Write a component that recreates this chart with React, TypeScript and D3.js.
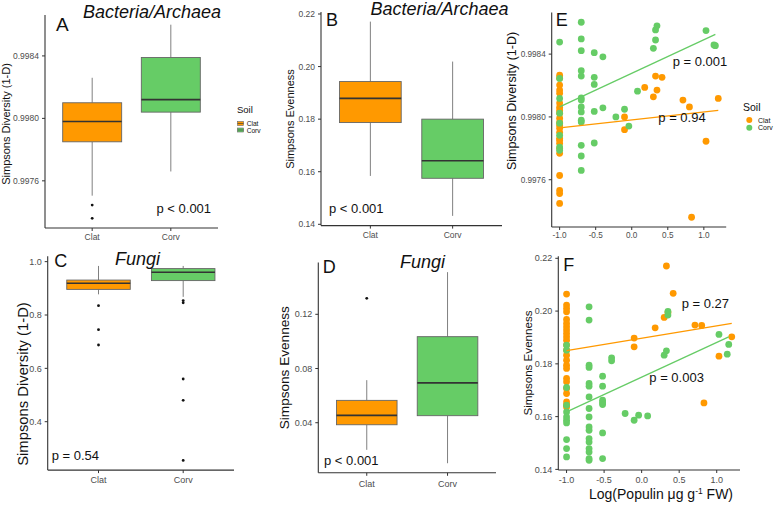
import React from 'react';
import * as d3 from 'd3';

// ---------- data ----------
const soils = ['Clat', 'Corv'];
const soilColors = ['#FF9900', '#66CC66'];

// box stats: [lower whisker, Q1, median, Q3, upper whisker]
const boxA_Clat = [0.997505, 0.99785, 0.99798, 0.9981, 0.99826];
const boxA_Corv = [0.99766, 0.99804, 0.99812, 0.99839, 0.9986];
const outA_Clat = [0.997445, 0.99736];
const outA_Corv: number[] = [];

const boxB_Clat = [0.1584, 0.1787, 0.1879, 0.1943, 0.2171];
const boxB_Corv = [0.1432, 0.1575, 0.1642, 0.18, 0.2019];
const outB_Clat: number[] = [];
const outB_Corv: number[] = [];

const boxC_Clat = [0.8775, 0.896, 0.919, 0.931, 0.984];
const boxC_Corv = [0.868, 0.929, 0.96, 0.974, 0.984];
const outC_Clat = [0.835, 0.745, 0.6875];
const outC_Corv = [0.854, 0.846, 0.56, 0.48, 0.255];

const boxD_Clat = [0.02, 0.0385, 0.0454, 0.0565, 0.0714];
const boxD_Corv = [0.0101, 0.0452, 0.0694, 0.1035, 0.1511];
const outD_Clat = [0.1318];
const outD_Corv: number[] = [];

// scatter: [log populin, value]
const ptsE_Clat: [number, number][] = [
  [-1, 0.998266], [-1, 0.998247], [-1, 0.998203], [-1, 0.998171], [-1, 0.998151], [-1, 0.998088],
  [-1, 0.998062], [-1, 0.998043], [-1, 0.998024], [-1, 0.997992], [-1, 0.997966], [-1, 0.997947],
  [-1, 0.997928], [-1, 0.997902], [-1, 0.997864], [-1, 0.997851], [-1, 0.997832], [-1, 0.9978],
  [-1, 0.997768], [-1, 0.997627], [-1, 0.997532], [-1, 0.997512], [-1, 0.997449],
  [-0.1, 0.998], [-0.1, 0.997919], [0.18, 0.998188], [0.3, 0.998128], [0.33, 0.99826],
  [0.35, 0.998171], [0.42, 0.998252], [0.71, 0.998107], [0.8, 0.998064], [0.83, 0.997361],
  [1.03, 0.997845], [1.2, 0.998118],
];
const ptsE_Corv: [number, number][] = [
  [-1, 0.998477], [-1, 0.998245], [-1, 0.998118], [-1, 0.998024], [-1, 0.99796], [-1, 0.997883],
  [-1, 0.997808], [-1, 0.997787],
  [-0.7, 0.998603], [-0.7, 0.998497], [-0.7, 0.998422], [-0.7, 0.998294], [-0.7, 0.99826],
  [-0.7, 0.998121], [-0.7, 0.998107], [-0.7, 0.998064], [-0.7, 0.998032], [-0.7, 0.997979],
  [-0.7, 0.997968], [-0.7, 0.997819], [-0.7, 0.997751], [-0.7, 0.997659],
  [-0.52, 0.998409], [-0.52, 0.998252], [-0.52, 0.998207], [-0.52, 0.998035], [-0.52, 0.997834],
  [-0.4, 0.998383], [-0.4, 0.998058], [-0.22, 0.998], [-0.1, 0.998049], [-0.04, 0.997942],
  [0.08, 0.998164], [0.3, 0.998437], [0.33, 0.99849], [0.33, 0.998554], [0.35, 0.99858],
  [1.03, 0.99855], [1.14, 0.998458], [1.16, 0.998454],
];
const ptsF_Clat: [number, number][] = [
  [-1, 0.20645], [-1, 0.20228], [-1, 0.20102], [-1, 0.19973], [-1, 0.19685], [-1, 0.19533],
  [-1, 0.19404], [-1, 0.19279], [-1, 0.19154], [-1, 0.19025], [-1, 0.18899], [-1, 0.1871],
  [-1, 0.1852], [-1, 0.1833], [-1, 0.1814], [-1, 0.1795], [-1, 0.17825], [-1, 0.17446],
  [-1, 0.17317], [-1, 0.17067], [-1, 0.16877], [-1, 0.16558], [-1, 0.16433], [-1, 0.16368],
  [-0.1, 0.18975], [-0.1, 0.18646], [0.18, 0.19366], [0.3, 0.19759], [0.33, 0.21708],
  [0.35, 0.19949], [0.42, 0.20672], [0.71, 0.19469], [0.8, 0.19457], [0.83, 0.1652],
  [1.03, 0.18292], [1.2, 0.19025],
];
const ptsF_Corv: [number, number][] = [
  [-1, 0.1871], [-1, 0.1852], [-1, 0.17104], [-1, 0.16433], [-1, 0.16178], [-1, 0.15989],
  [-1, 0.15863], [-1, 0.15761], [-1, 0.15131], [-1, 0.14789], [-1, 0.14471],
  [-0.7, 0.20163], [-0.7, 0.19658], [-0.7, 0.17951], [-0.7, 0.17863], [-0.7, 0.17256],
  [-0.7, 0.17154], [-0.7, 0.16748], [-0.7, 0.16307], [-0.7, 0.15989], [-0.7, 0.15609],
  [-0.7, 0.15484], [-0.7, 0.15169], [-0.7, 0.1504], [-0.7, 0.14789], [-0.7, 0.1466],
  [-0.7, 0.1441], [-0.7, 0.14345],
  [-0.52, 0.17533], [-0.52, 0.17154], [-0.52, 0.16623], [-0.52, 0.16535], [-0.52, 0.16459],
  [-0.52, 0.15382], [-0.52, 0.1441], [-0.4, 0.18228], [-0.4, 0.18114], [-0.22, 0.16118],
  [-0.1, 0.15863], [-0.04, 0.16053], [0.08, 0.16027], [0.3, 0.1833], [0.33, 0.18494],
  [0.35, 0.19987], [0.35, 0.19848], [1.03, 0.19116], [1.14, 0.18368], [1.16, 0.18736],
];

// fitted regression lines (endpoints)
const fitE_Clat: [number, number][] = [[-1, 0.99793], [1.2, 0.998042]];
const fitE_Corv: [number, number][] = [[-1, 0.998064], [1.16, 0.998526]];
const fitF_Clat: [number, number][] = [[-1, 0.185], [1.2, 0.19533]];
const fitF_Corv: [number, number][] = [[-1, 0.16178], [1.16, 0.19025]];

const ticksA = [0.9976, 0.998, 0.9984];
const ticksB = [0.14, 0.16, 0.18, 0.2, 0.22];
const ticksC = [0.4, 0.6, 0.8, 1.0];
const ticksD = [0.04, 0.08, 0.12];
const ticksE = [0.9976, 0.998, 0.9984];
const ticksF = [0.14, 0.16, 0.18, 0.2, 0.22];
const ticksX = [-1, -0.5, 0, 0.5, 1];

// ---------- styles ----------
const FONT = "'Liberation Sans', Arial, Helvetica, sans-serif";
const AXIS = '#333333';
const TICKTXT = '#4d4d4d';

type Frame = { l: number; r: number; t: number; b: number };

function expanded(vals: number[]): [number, number] {
  const [mn, mx] = d3.extent(vals) as [number, number];
  const p = (mx - mn) * 0.05;
  return [mn - p, mx + p];
}

function YAxis({ y, f, ticks, digits, fs }: any) {
  return (
    <g>
      <line x1={f.l} x2={f.l} y1={f.t} y2={f.b} stroke={AXIS} strokeWidth={1.1} />
      {ticks.map((t: number) => (
        <g key={t}>
          <line x1={f.l - 3} x2={f.l} y1={y(t)} y2={y(t)} stroke={AXIS} strokeWidth={1} />
          <text x={f.l - 6} y={y(t)} dy="0.35em" textAnchor="end" fontSize={fs} fill={TICKTXT} fontFamily={FONT}>
            {t.toFixed(digits)}
          </text>
        </g>
      ))}
    </g>
  );
}

function BoxPanel(p: any) {
  const f: Frame = p.frame;
  const stats = [p.clat, p.corv];
  const outs = [p.outClat, p.outCorv];
  const y = d3.scaleLinear().domain(expanded([...stats.flat(), ...outs.flat()])).range([f.b, f.t]);
  const x = d3.scalePoint<string>().domain(soils).range([f.l, f.r]).padding(0.6);
  const bw = x.step() * 0.75;
  return (
    <g>
      {soils.map((s, i) => {
        const [lo, q1, md, q3, hi] = stats[i];
        const cx = x(s)!;
        return (
          <g key={s}>
            <line x1={cx} x2={cx} y1={y(hi)} y2={y(q3)} stroke="#808080" strokeWidth={1} />
            <line x1={cx} x2={cx} y1={y(q1)} y2={y(lo)} stroke="#808080" strokeWidth={1} />
            <rect x={cx - bw / 2} y={y(q3)} width={bw} height={y(q1) - y(q3)} fill={soilColors[i]} stroke="#666" strokeWidth={0.9} />
            <line x1={cx - bw / 2} x2={cx + bw / 2} y1={y(md)} y2={y(md)} stroke="#333" strokeWidth={1.6} />
            {outs[i].map((o: number, k: number) => (
              <circle key={k} cx={cx} cy={y(o)} r={1.4} fill="#111" />
            ))}
          </g>
        );
      })}
      <YAxis y={y} f={f} ticks={p.ticks} digits={p.digits} fs={p.tickFs} />
      <line x1={f.l} x2={f.r} y1={f.b} y2={f.b} stroke={AXIS} strokeWidth={1.1} />
      {soils.map((s) => (
        <g key={s}>
          <line x1={x(s)} x2={x(s)} y1={f.b} y2={f.b + 3} stroke={AXIS} strokeWidth={1} />
          <text x={x(s)} y={f.b + p.xLabOff} textAnchor="middle" fontSize={p.tickFs} fill={TICKTXT} fontFamily={FONT}>{s}</text>
        </g>
      ))}
      <text transform={`translate(${p.yTitle[0]},${p.yTitle[1]}) rotate(-90)`} textAnchor="middle" fontSize={p.yTitleFs} fill="#111" fontFamily={FONT}>{p.yTitleText}</text>
    </g>
  );
}

function ScatterPanel(p: any) {
  const f: Frame = p.frame;
  const series = [p.clat, p.corv];
  const fits = [p.fitClat, p.fitCorv];
  const all = series.flat();
  const x = d3.scaleLinear().domain(expanded(all.map((d: number[]) => d[0]))).range([f.l, f.r]);
  const y = d3.scaleLinear().domain(expanded(all.map((d: number[]) => d[1]))).range([f.b, f.t]);
  const line = d3.line<[number, number]>().x((d) => x(d[0])).y((d) => y(d[1]));
  return (
    <g>
      {series.map((ser: [number, number][], i: number) => (
        <g key={i}>
          {ser.map((d, k) => (
            <circle key={k} cx={x(d[0])} cy={y(d[1])} r={3.4} fill={soilColors[i]} />
          ))}
        </g>
      ))}
      {fits.map((ft: [number, number][], i: number) => (
        <path key={i} d={line(ft) || ''} stroke={soilColors[i]} strokeWidth={1.3} fill="none" />
      ))}
      <YAxis y={y} f={f} ticks={p.ticks} digits={p.digits} fs={p.tickFs} />
      <line x1={f.l} x2={f.r} y1={f.b} y2={f.b} stroke={AXIS} strokeWidth={1.1} />
      {ticksX.map((t) => (
        <g key={t}>
          <line x1={x(t)} x2={x(t)} y1={f.b} y2={f.b + 3} stroke={AXIS} strokeWidth={1} />
          <text x={x(t)} y={f.b + p.xLabOff} textAnchor="middle" fontSize={p.tickFs} fill={TICKTXT} fontFamily={FONT}>{t.toFixed(1)}</text>
        </g>
      ))}
      <text transform={`translate(${p.yTitle[0]},${p.yTitle[1]}) rotate(-90)`} textAnchor="middle" fontSize={p.yTitleFs} fill="#111" fontFamily={FONT}>{p.yTitleText}</text>
    </g>
  );
}

function Txt({ x, y, fs, children, italic, anchor }: any) {
  return (
    <text x={x} y={y} fontSize={fs} fontFamily={FONT} fill="#111" fontStyle={italic ? 'italic' : 'normal'} textAnchor={anchor || 'start'}>
      {children}
    </text>
  );
}

export default function App() {
  return (
    <div style={{ position: 'absolute', left: 0, top: 0 }}>
      <svg width={778} height={505} viewBox="0 0 778 505" style={{ display: 'block', background: '#fff' }}>
        <rect width={778} height={505} fill="#fff" />
        {/* A */}
        <BoxPanel frame={{ l: 45, r: 218, t: 15, b: 228 }} clat={boxA_Clat} corv={boxA_Corv} outClat={outA_Clat} outCorv={outA_Corv}
          ticks={ticksA} digits={4} tickFs={8.5} xLabOff={12.3} yTitle={[9.5, 124]} yTitleFs={11} yTitleText="Simpsons Diversity (1-D)" />
        <Txt x={56} y={30.5} fs={19}>A</Txt>
        <Txt x={83} y={17.5} fs={18} italic>Bacteria/Archaea</Txt>
        <Txt x={156.5} y={213.3} fs={13}>p &lt; 0.001</Txt>
        {/* legend A */}
        <Txt x={237} y={113} fs={9.5}>Soil</Txt>
        {soils.map((s, i) => (
          <g key={s}>
            <rect x={237.5} y={121.5 + i * 6.5} width={6} height={4} fill={soilColors[i]} stroke="#666" strokeWidth={0.6} />
            <line x1={237.5} x2={243.5} y1={123.5 + i * 6.5} y2={123.5 + i * 6.5} stroke="#333" strokeWidth={0.6} />
            <Txt x={246.7} y={126 + i * 6.5} fs={6.6}>{s}</Txt>
          </g>
        ))}

        {/* B */}
        <BoxPanel frame={{ l: 321, r: 502, t: 11.9, b: 225.6 }} clat={boxB_Clat} corv={boxB_Corv} outClat={outB_Clat} outCorv={outB_Corv}
          ticks={ticksB} digits={2} tickFs={8.5} xLabOff={12.7} yTitle={[294, 119]} yTitleFs={11} yTitleText="Simpsons Evenness" />
        <Txt x={326} y={26} fs={18}>B</Txt>
        <Txt x={370.5} y={15} fs={18} italic>Bacteria/Archaea</Txt>
        <Txt x={329} y={213.3} fs={13}>p &lt; 0.001</Txt>

        {/* C */}
        <BoxPanel frame={{ l: 47.7, r: 234, t: 256.2, b: 470.1 }} clat={boxC_Clat} corv={boxC_Corv} outClat={outC_Clat} outCorv={outC_Corv}
          ticks={ticksC} digits={1} tickFs={9} xLabOff={12.7} yTitle={[27.5, 384]} yTitleFs={14.8} yTitleText="Simpsons Diversity (1-D)" />
        <Txt x={54.3} y={266.7} fs={18}>C</Txt>
        <Txt x={115} y={264.6} fs={18} italic>Fungi</Txt>
        <Txt x={51.7} y={460} fs={13}>p = 0.54</Txt>

        {/* D */}
        <BoxPanel frame={{ l: 318.3, r: 496, t: 262.6, b: 472.8 }} clat={boxD_Clat} corv={boxD_Corv} outClat={outD_Clat} outCorv={outD_Corv}
          ticks={ticksD} digits={2} tickFs={9} xLabOff={13.9} yTitle={[289, 367.7]} yTitleFs={13.6} yTitleText="Simpsons Evenness" />
        <Txt x={322.7} y={272.7} fs={18}>D</Txt>
        <Txt x={400} y={268} fs={18} italic>Fungi</Txt>
        <Txt x={324} y={465} fs={13}>p &lt; 0.001</Txt>

        {/* E */}
        <ScatterPanel frame={{ l: 551.7, r: 726.2, t: 12.5, b: 227 }} clat={ptsE_Clat} corv={ptsE_Corv} fitClat={fitE_Clat} fitCorv={fitE_Corv}
          ticks={ticksE} digits={4} tickFs={8.2} xLabOff={11.3} yTitle={[515.6, 101]} yTitleFs={12.5} yTitleText="Simpsons Diversity (1-D)" />
        <Txt x={555.7} y={25.5} fs={18}>E</Txt>
        <Txt x={672.7} y={66} fs={13}>p = 0.001</Txt>
        <Txt x={658.3} y={121.7} fs={13}>p = 0.94</Txt>
        {/* legend E */}
        <Txt x={743} y={111} fs={10.5}>Soil</Txt>
        {soils.map((s, i) => (
          <g key={s}>
            <circle cx={749.3} cy={120 + i * 7.7} r={3} fill={soilColors[i]} />
            <Txt x={758} y={122.5 + i * 7.7} fs={7}>{s}</Txt>
          </g>
        ))}

        {/* F */}
        <ScatterPanel frame={{ l: 558.3, r: 740, t: 256.3, b: 470 }} clat={ptsF_Clat} corv={ptsF_Corv} fitClat={fitF_Clat} fitCorv={fitF_Corv}
          ticks={ticksF} digits={2} tickFs={9} xLabOff={12.7} yTitle={[531.6, 363]} yTitleFs={11.6} yTitleText="Simpsons Evenness" />
        <Txt x={563.3} y={271} fs={18}>F</Txt>
        <Txt x={681.7} y={308.3} fs={13}>p = 0.27</Txt>
        <Txt x={649.3} y={381.7} fs={13}>p = 0.003</Txt>
        <text x={589} y={499.3} fontSize={14} fontFamily={FONT} fill="#111">
          Log(Populin μg g<tspan fontSize={8.5} dy={-5.5}>-1</tspan><tspan dy={5.5}> FW)</tspan>
        </text>
      </svg>
    </div>
  );
}
